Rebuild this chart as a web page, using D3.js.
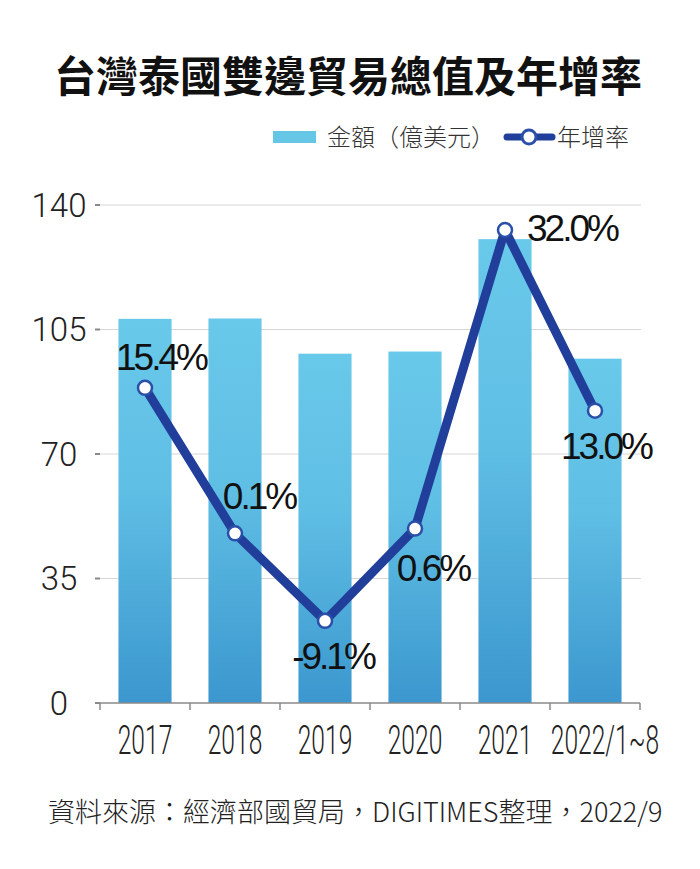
<!DOCTYPE html>
<html>
<head>
<meta charset="utf-8">
<script src="https://cdn.jsdelivr.net/npm/d3@7/dist/d3.min.js"></script>
<style>
  body { margin: 0; background: #fff; }
  svg { display: block; }
</style>
</head>
<body>
<svg id="chart" width="700" height="869"></svg>
<script>
// DATA
const years = ["2017", "2018", "2019", "2020", "2021", "2022/1~8"];
const tradeValues = [108.0, 108.1, 98.2, 98.8, 130.4, 96.8]; // 億美元
const growthRates = [15.4, 0.1, -9.1, 0.6, 32.0, 13.0]; // %
const yTicks = [0, 35, 70, 105, 140];

// label offsets from each point (layout only)
const labelOffsets = [
  [16, -18],
  [24, -24],
  [8, 48],
  [18, 52],
  [67, 11],
  [11, 48],
];

const svg = d3.select("#chart");

// CANVAS SETUP
const margin = { top: 205, right: 60, bottom: 166, left: 100 },
  width = 700 - margin.left - margin.right,
  baseY = 869 - margin.bottom;

const x = d3
  .scaleBand()
  .domain(years)
  .range([margin.left, margin.left + width])
  .paddingInner(0.41)
  .paddingOuter(0.205);

const y = d3.scaleLinear().domain([0, 140]).range([baseY, margin.top]);

// secondary (hidden) scale for the growth line
const y2 = d3.scaleLinear().domain([-17.74, 34.63]).range([baseY, margin.top]);

const pct = d3.formatLocale({
  decimal: ".",
  thousands: ",",
  grouping: [3],
  currency: ["", ""],
  minus: "-",
}).format(".1f");

const defs = svg.append("defs");
const grad = defs
  .append("linearGradient")
  .attr("id", "barGrad")
  .attr("x1", 0)
  .attr("y1", 0)
  .attr("x2", 0)
  .attr("y2", 1);
grad.append("stop").attr("offset", "0%").attr("stop-color", "#69c9ea");
grad.append("stop").attr("offset", "45%").attr("stop-color", "#5fbee4");
grad.append("stop").attr("offset", "100%").attr("stop-color", "#3b97ce");

// TITLE
svg
  .append("text")
  .attr("x", 348)
  .attr("y", 92)
  .attr("text-anchor", "middle")
  .style("font-family", "'Noto Sans CJK TC', sans-serif")
  .style("font-weight", 700)
  .style("font-size", "42px")
  .style("fill", "#111")
  .text("台灣泰國雙邊貿易總值及年增率");

// LEGEND
const legend = svg.append("g").style("font-family", "'Noto Sans CJK TC', sans-serif");
legend
  .append("rect")
  .attr("x", 273)
  .attr("y", 131)
  .attr("width", 43)
  .attr("height", 12)
  .attr("fill", "#66c6e6");
legend
  .append("text")
  .attr("x", 327)
  .attr("y", 146)
  .style("font-size", "24px")
  .style("font-weight", 300)
  .style("fill", "#333")
  .text("金額（億美元）");
legend
  .append("line")
  .attr("x1", 507)
  .attr("x2", 552)
  .attr("y1", 137)
  .attr("y2", 137)
  .attr("stroke", "#213f9a")
  .attr("stroke-width", 7)
  .attr("stroke-linecap", "round");
legend
  .append("circle")
  .attr("cx", 529)
  .attr("cy", 137)
  .attr("r", 7)
  .attr("fill", "#fff")
  .attr("stroke", "#2a4fa8")
  .attr("stroke-width", 3);
legend
  .append("text")
  .attr("x", 557)
  .attr("y", 146)
  .style("font-size", "24px")
  .style("font-weight", 300)
  .style("fill", "#333")
  .text("年增率");

// GRIDLINES + Y AXIS
const gy = svg.append("g").attr("transform", `translate(${margin.left},0)`);
gy.selectAll("line.grid")
  .data(yTicks.filter((d) => d > 0))
  .join("line")
  .attr("class", "grid")
  .attr("x1", 0)
  .attr("x2", width + 1)
  .attr("y1", (d) => y(d))
  .attr("y2", (d) => y(d))
  .attr("stroke", "#d6d6d6")
  .attr("stroke-width", 1);
gy.selectAll("line.tick")
  .data(yTicks)
  .join("line")
  .attr("class", "tick")
  .attr("x1", -5)
  .attr("x2", 0)
  .attr("y1", (d) => y(d))
  .attr("y2", (d) => y(d))
  .attr("stroke", "#8a8a8a")
  .attr("stroke-width", 2);
gy.selectAll("text")
  .data(yTicks)
  .join("text")
  .attr("x", -41)
  .attr("y", (d) => y(d))
  .attr("dy", "0.36em")
  .attr("text-anchor", "middle")
  .style("font-family", "Roboto, sans-serif")
  .style("font-weight", 300)
  .style("font-size", "33px")
  .style("fill", "#222")
  .text((d) => d);

// BARS
svg
  .append("g")
  .selectAll("rect")
  .data(years)
  .join("rect")
  .attr("x", (d) => x(d))
  .attr("y", (d, i) => y(tradeValues[i]))
  .attr("width", x.bandwidth())
  .attr("height", (d, i) => baseY - y(tradeValues[i]))
  .attr("fill", "url(#barGrad)");

// X AXIS
const gx = svg.append("g");
gx.append("line")
  .attr("x1", margin.left)
  .attr("x2", margin.left + width)
  .attr("y1", baseY)
  .attr("y2", baseY)
  .attr("stroke", "#8a8a8a")
  .attr("stroke-width", 1.5);
gx.selectAll("line.xtick")
  .data(d3.range(years.length + 1))
  .join("line")
  .attr("class", "xtick")
  .attr("x1", (i) => margin.left + i * x.step())
  .attr("x2", (i) => margin.left + i * x.step())
  .attr("y1", baseY)
  .attr("y2", baseY + 7)
  .attr("stroke", "#8a8a8a")
  .attr("stroke-width", 1.5);
gx.selectAll("text")
  .data(years)
  .join("text")
  .attr("transform", (d, i) => {
    // the longer last label sits a little to the right in the original
    const shift = i === years.length - 1 ? 10 : 0;
    return `translate(${x(d) + x.bandwidth() / 2 + shift},${baseY + 51}) scale(0.6,1)`;
  })
  .attr("text-anchor", "middle")
  .style("font-family", "Roboto, sans-serif")
  .style("font-weight", 300)
  .style("font-size", "41px")
  .style("fill", "#222")
  .text((d) => d);

// GROWTH LINE
const cx = (d, i) => x(years[i]) + x.bandwidth() / 2;
const line = d3
  .line()
  .x(cx)
  .y((d) => y2(d));

svg
  .append("path")
  .datum(growthRates)
  .attr("d", line)
  .attr("fill", "none")
  .attr("stroke", "#213f9a")
  .attr("stroke-width", 9)
  .attr("stroke-linejoin", "round");

svg
  .append("g")
  .selectAll("circle")
  .data(growthRates)
  .join("circle")
  .attr("cx", cx)
  .attr("cy", (d) => y2(d))
  .attr("r", 7)
  .attr("fill", "#fff")
  .attr("stroke", "#2a4fa8")
  .attr("stroke-width", 2.5);

svg
  .append("g")
  .selectAll("text")
  .data(growthRates)
  .join("text")
  .attr("x", (d, i) => cx(d, i) + labelOffsets[i][0])
  .attr("y", (d, i) => y2(d) + labelOffsets[i][1])
  .attr("text-anchor", "middle")
  .style("font-family", "'Liberation Sans', Arial, sans-serif")
  .style("font-size", "37px")
  .style("letter-spacing", "-3px")
  .style("fill", "#111")
  .text((d) => pct(d) + "%");

// SOURCE
svg
  .append("text")
  .attr("x", 48)
  .attr("y", 822)
  .style("font-family", "'Noto Sans CJK TC', sans-serif")
  .style("font-weight", 300)
  .style("font-size", "27px")
  .style("fill", "#222")
  .text("資料來源：經濟部國貿局，DIGITIMES整理，2022/9");
</script>
</body>
</html>
